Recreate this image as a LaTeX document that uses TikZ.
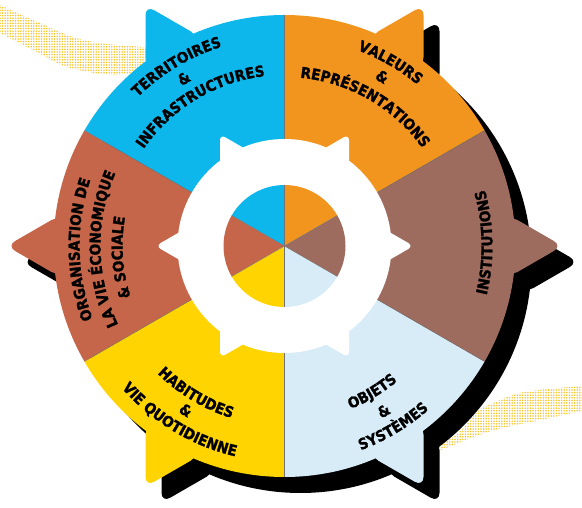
\documentclass[tikz,border=0pt]{standalone}
\usepackage{fontspec}
\newfontfamily\lab{DejaVu Sans Condensed}[BoldFeatures={FakeBold=1.6}]
\usetikzlibrary{decorations.text,patterns.meta}
\definecolor{blueC}{RGB}{14,183,235}
\definecolor{orangeC}{RGB}{242,149,30}
\definecolor{brownC}{RGB}{158,107,95}
\definecolor{lblueC}{RGB}{215,236,247}
\definecolor{yellowC}{RGB}{255,212,0}
\definecolor{terraC}{RGB}{197,102,74}
\definecolor{dotC}{RGB}{248,198,50}
\def\cx{284.5}
\def\cy{261}
\newcommand\labfont{\lab\bfseries\fontsize{15}{15}\selectfont}
% #1 cx, #2 cy, #3 radius, #4 apex radius, #5 flank length
\newcommand\gearshape[5]{({#1},{#2}) circle[radius=#3pt]
  foreach \a in {0,60,...,300}{
    ({#1+(#4-0.866*#5)*cos(\a)},{#2+(#4-0.866*#5)*sin(\a)})
    -- ({#1+#4*cos(\a)+#5*cos(\a+210)},{#2+#4*sin(\a)+#5*sin(\a+210)})
    -- ({#1+#4*cos(\a)},{#2+#4*sin(\a)})
    -- ({#1+#4*cos(\a)+#5*cos(\a+150)},{#2+#4*sin(\a)+#5*sin(\a+150)})
    -- cycle}}
\newcommand\sector[4]{% color, start, end, radius
  \fill[#1] ({\cx},{\cy}) -- ++(#2:#4pt) arc[start angle=#2,end angle=#3,radius=#4pt] -- cycle;}
\newcommand\arctext[4]{% radius, start, end, text
  \path[decorate,decoration={text along path,text align=center,text={|\labfont|#4}}]
    ({\cx+#1*cos(#2)},{\cy+#1*sin(#2)}) arc[start angle=#2,end angle=#3,radius=#1pt];}
\tikzset{divider/.style={draw=black!55,line width=0.35pt},
  halftone/.style={pattern={Dots[distance=2.6pt,radius=0.9pt]},pattern color=dotC}}
\begin{document}
\begin{tikzpicture}[x=1pt,y=1pt]
\fill[white] (0,0) rectangle (582,507);
\useasboundingbox (0,0) rectangle (582,507);
% background halftone swooshes
\fill[halftone]
  plot[smooth] coordinates {(0,502) (33,487) (83,467) (143,460) (200,458)}
  -- plot[smooth] coordinates {(200,437) (143,435) (110,432) (67,440) (33,457) (0,474)} -- cycle;
\fill[halftone]
  plot[smooth] coordinates {(420,50) (457,73) (478,96) (491,103) (524,115) (582,121)}
  -- plot[smooth] coordinates {(582,96) (540,87) (491,76) (451,61) (420,48)} -- cycle;
% shadow
\fill[black,rounded corners=10pt] \gearshape{\cx+16}{\cy-16}{231}{278}{62};
% coloured wheel
\begin{scope}
  \clip[rounded corners=10pt] \gearshape{\cx}{\cy}{231}{278}{62};
  \sector{orangeC}{30}{90}{330}
  \sector{blueC}{90}{150}{330}
  \sector{terraC}{150}{210}{330}
  \sector{yellowC}{210}{270}{330}
  \sector{lblueC}{270}{330}{330}
  \sector{brownC}{-30}{30}{330}
  \foreach \a in {30,90,...,330} \draw[divider] ({\cx},{\cy}) -- ++(\a:330pt);
\end{scope}
% white inner gear
\fill[white,rounded corners=6pt] \gearshape{\cx}{\cy}{107}{129}{35};
% inner disc
\sector{orangeC}{30}{90}{61}
\sector{blueC}{90}{150}{61}
\sector{terraC}{150}{210}{61}
\sector{yellowC}{210}{270}{61}
\sector{lblueC}{270}{330}{61}
\sector{brownC}{-30}{30}{61}
\foreach \a in {30,90,...,330} \draw[divider] ({\cx},{\cy}) -- ++(\a:61pt);
% labels
\arctext{209}{156}{86}{TERRITOIRES}
\arctext{190}{156}{86}{{\&}}
\arctext{171}{161}{81}{INFRASTRUCTURES}
\arctext{209}{95}{25}{VALEURS}
\arctext{190}{95}{25}{{\&}}
\arctext{169}{100}{20}{REPRÉSENTATIONS}
\arctext{208}{-39}{41}{INSTITUTIONS}
\arctext{205}{221}{141}{ORGANISATION DE}
\arctext{184}{221}{141}{LA VIE ÉCONOMIQUE}
\arctext{162}{224}{144}{{\&} SOCIALE}
\arctext{180}{199}{279}{HABITUDES}
\arctext{197}{199}{279}{{\&}}
\arctext{216}{199}{279}{VIE QUOTIDIENNE}
\arctext{176}{261}{341}{OBJETS}
\arctext{198}{261}{341}{{\&}}
\arctext{218}{261}{341}{SYSTÈMES}
\end{tikzpicture}
\end{document}
